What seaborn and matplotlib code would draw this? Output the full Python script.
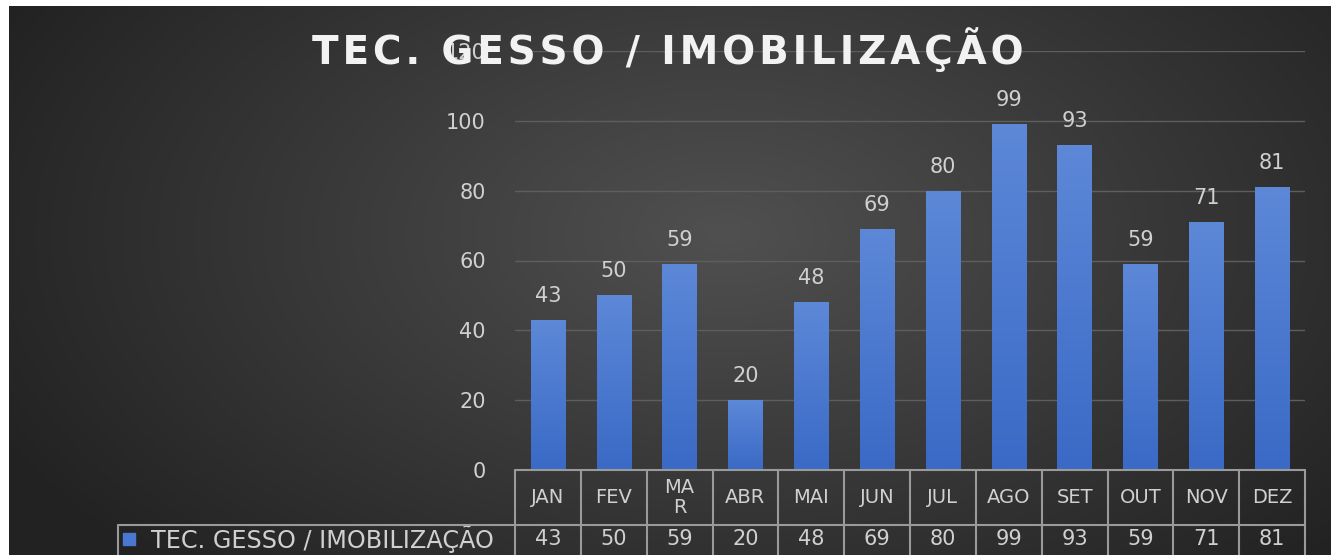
import matplotlib
matplotlib.use("Agg")
import matplotlib.pyplot as plt
import matplotlib.transforms as mtransforms
import numpy as np
import seaborn as sns

months = ["JAN", "FEV", "MA\nR", "ABR", "MAI", "JUN", "JUL", "AGO", "SET", "OUT", "NOV", "DEZ"]
values = [43, 50, 59, 20, 48, 69, 80, 99, 93, 59, 71, 81]
series_name = "TEC. GESSO / IMOBILIZAÇÃO"
yticks = [0, 20, 40, 60, 80, 100, 120]

W, H = 1331, 555
TXT = "#d0d0d0"
LINE = "#9a9a9a"

sns.set_theme(style="dark")
plt.rcParams["font.family"] = ["DejaVu Sans"]

fig = plt.figure(figsize=(W / 100, H / 100), dpi=100)
fig.patch.set_facecolor("white")

# dark radial background
bg = fig.add_axes([9 / W, 0, 1 - 9 / W, 1 - 6 / H])
bg.set_axis_off()
yy, xx = np.mgrid[0:H, 0:W]
d = np.sqrt(((xx - 720) / 820) ** 2 + ((yy - 230) / 480) ** 2)
g = np.clip(0x50 - (0x50 - 0x22) * d, 0x22, 0x50) / 255
bg.imshow(np.dstack([g, g, g]), aspect="auto", extent=[0, 1, 0, 1])

# main axes
x0, x1, ytop, ybot = 515, 1305, 51, 470
ax = fig.add_axes([x0 / W, 1 - ybot / H, (x1 - x0) / W, (ybot - ytop) / H])
ax.patch.set_alpha(0)
sns.barplot(x=list(range(len(values))), y=values, color="#4a78d0", width=0.52,
            saturation=1, linewidth=0, edgecolor="none", ax=ax, zorder=3)
ax.set_xlim(-0.5, len(values) - 0.5)
ax.set_ylim(0, 120)
ax.set_yticks(yticks)
ax.set_yticklabels([str(t) for t in yticks], color=TXT, fontsize=15)
ax.tick_params(axis="y", length=0, pad=21)
ax.set_xticks([])
ax.set_xlabel("")
ax.set_ylabel("")
for s in ax.spines.values():
    s.set_visible(False)
ax.grid(False)
for t in yticks[1:]:
    ax.axhline(t, color="#5e5e5e", lw=1, zorder=1)

# vertical gradient on bars
grad = np.linspace(0, 1, 100).reshape(-1, 1)
top_c = np.array([0x5d, 0x88, 0xd8]) / 255
bot_c = np.array([0x3a, 0x6a, 0xc6]) / 255
img = top_c * (1 - grad[..., None]) + bot_c * grad[..., None]
img = img.reshape(100, 1, 3)
for p in ax.patches:
    bx, by = p.get_x(), p.get_y()
    bw, bh = p.get_width(), p.get_height()
    im = ax.imshow(img, extent=[bx, bx + bw, by, by + bh], aspect="auto",
                   origin="upper", zorder=4)
    im.set_clip_path(p)
ax.set_xlim(-0.5, len(values) - 0.5)
ax.set_ylim(0, 120)

for i, v in enumerate(values):
    ax.text(i, v + 4, str(v), ha="center", va="bottom", color=TXT,
            fontsize=15, zorder=5)

# data table below the plot
trans = mtransforms.blended_transform_factory(ax.transData, ax.transAxes)
ax_h = ybot - ytop
row1 = 55 / ax_h
row2 = 28 / ax_h
n = len(values)
leg_left = -0.5 - (x0 - 118) / (x1 - x0) * n
kw = dict(color=LINE, lw=1.5, transform=trans, clip_on=False, zorder=6)
ax.plot([-0.5, n - 0.5], [0, 0], **kw)
ax.plot([leg_left, n - 0.5], [-row1, -row1], **kw)
ax.plot([leg_left, leg_left], [-row1, -row1 - 0.2], **kw)
for i in range(n + 1):
    ax.plot([i - 0.5, i - 0.5], [0, -row1 - 0.2], **kw)
for i, (m, v) in enumerate(zip(months, values)):
    ax.text(i, -row1 / 2, m, ha="center", va="center", color=TXT, fontsize=14,
            transform=trans, linespacing=1.1)
    ax.text(i, -row1 - row2 / 2, str(v), ha="center", va="center", color=TXT,
            fontsize=15, transform=trans)
ax.plot([leg_left + 0.17], [-row1 - row2 / 2], marker="s", ms=8,
        color="#4a78d0", transform=trans, clip_on=False)
ax.text(leg_left + 0.5, -row1 - row2 / 2, series_name, ha="left", va="center",
        color=TXT, fontsize=17.2, transform=trans)

# title with some letter spacing
title = "\u200a".join(series_name)
fig.text(668 / W, 1 - 50 / H, title, ha="center", va="center",
         color="#f2f2f2", fontsize=28, fontweight="bold")

fig.savefig("out.png", dpi=100)
